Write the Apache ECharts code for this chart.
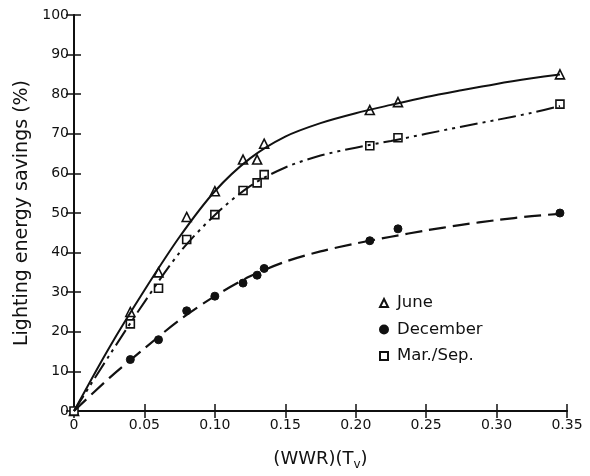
<!DOCTYPE html>
<html>
<head>
<meta charset="utf-8">
<script src="https://cdn.jsdelivr.net/npm/echarts@6/dist/echarts.min.js"></script>
<style>html,body{margin:0;padding:0;background:#fff}#c{width:590px;height:476px}</style>
</head>
<body>
<div id="c"></div>
<script>
// Measured points
var juneX = [0, 0.04, 0.06, 0.08, 0.10, 0.12, 0.13, 0.135, 0.21, 0.23, 0.345];
var juneY = [0, 25, 35, 49, 55.5, 63.5, 63.5, 67.5, 76, 78, 85];
var decX = [0, 0.04, 0.06, 0.08, 0.10, 0.12, 0.13, 0.135, 0.21, 0.23, 0.345];
var decY = [0, 13, 18, 25.3, 29, 32.3, 34.3, 36, 43, 46, 50];
var marX = [0, 0.04, 0.06, 0.08, 0.10, 0.12, 0.13, 0.135, 0.21, 0.23, 0.345];
var marY = [0, 22, 31, 43.3, 49.6, 55.7, 57.6, 59.7, 67, 69, 77.5];

// Fitted curves
var curveX = [0, 0.025, 0.05, 0.075, 0.10, 0.125, 0.15, 0.175, 0.20, 0.225, 0.25, 0.275, 0.30, 0.325, 0.345];
var juneCurve = [0, 16, 30.5, 44, 55.5, 63.8, 69.3, 72.7, 75.2, 77.3, 79.3, 81, 82.6, 84, 85];
var marCurve = [0, 14, 27.5, 40, 49.5, 56.8, 61.5, 64.5, 66.5, 68.2, 70, 71.8, 73.5, 75.3, 77];
var decCurve = [0, 8.3, 15.8, 23, 29, 34, 37.7, 40.3, 42.3, 44, 45.6, 47, 48.2, 49.2, 49.8];

var xTicks = ['0', '0.05', '0.10', '0.15', '0.20', '0.25', '0.30', '0.35'];

function pairs(xs, ys) { return xs.map(function (x, i) { return [x, ys[i]]; }); }

var FONT = 'DejaVu Sans';
var INK = '#111';

var chart = echarts.init(document.getElementById('c'), null, { renderer: 'canvas' });
var option = {
  backgroundColor: '#fff',
  animation: false,
  grid: { left: 74, right: 23, top: 15, bottom: 63 },
  legend: {
    data: ['June', 'December', 'Mar./Sep.'],
    orient: 'vertical',
    left: 374, top: 288,
    itemWidth: 8, itemHeight: 8, itemGap: 6.5,
    textStyle: { fontFamily: FONT, fontSize: 16.5, color: INK, lineHeight: 20, padding: [0, 0, 0, 4] }
  },
  xAxis: [{
    type: 'value', min: 0, max: 0.35, interval: 0.05, position: 'bottom',
    name: '(WWR)(T{s|v})', nameLocation: 'middle', nameGap: 36,
    nameTextStyle: { fontFamily: FONT, fontSize: 18, color: INK,
      rich: { s: { fontFamily: FONT, fontSize: 12, color: INK, padding: [12, 0, 0, 0] } } },
    axisLine: { lineStyle: { color: INK, width: 2 } },
    axisTick: { inside: true, length: 7, lineStyle: { color: INK, width: 1.5 } },
    splitLine: { show: false },
    axisLabel: { fontFamily: FONT, fontSize: 14, color: INK, margin: 7,
      formatter: function (v) { return xTicks[Math.round(v / 0.05)]; } }
  }, {
    type: 'value', min: 0, max: 0.35, interval: 0.05, position: 'top',
    axisLine: { lineStyle: { color: INK, width: 1.5 } },
    axisTick: { inside: true, length: 7, lineStyle: { color: INK, width: 1.5 } },
    axisLabel: { show: false }, splitLine: { show: false }
  }],
  yAxis: [{
    type: 'value', min: 0, max: 100, interval: 10, position: 'left',
    name: 'Lighting energy savings (%)', nameLocation: 'middle', nameGap: 40,
    nameTextStyle: { fontFamily: FONT, fontSize: 19, color: INK },
    axisLine: { lineStyle: { color: INK, width: 2 } },
    axisTick: { inside: true, length: 7, lineStyle: { color: INK, width: 1.5 } },
    splitLine: { show: false },
    axisLabel: { fontFamily: FONT, fontSize: 14, color: INK, margin: 5 }
  }, {
    type: 'value', min: 0, max: 100, interval: 10, position: 'right',
    axisLine: { lineStyle: { color: INK, width: 1.5 } },
    axisTick: { inside: true, length: 8, lineStyle: { color: INK, width: 1.5 } },
    axisLabel: { show: false }, splitLine: { show: false }
  }],
  series: [
    { name: 'June curve', type: 'line', smooth: 0.3, showSymbol: false, silent: true,
      data: pairs(curveX, juneCurve), lineStyle: { color: INK, width: 2, type: 'solid' } },
    { name: 'Mar curve', type: 'line', smooth: 0.3, showSymbol: false, silent: true,
      data: pairs(curveX, marCurve), lineStyle: { color: INK, width: 2, type: [18, 5, 3, 5, 3, 5] } },
    { name: 'Dec curve', type: 'line', smooth: 0.3, showSymbol: false, silent: true,
      data: pairs(curveX, decCurve), lineStyle: { color: INK, width: 2.2, type: [17, 7] } },
    { name: 'June', type: 'scatter', symbol: 'triangle', symbolSize: 9, clip: false,
      data: pairs(juneX, juneY), itemStyle: { color: '#fff', borderColor: INK, borderWidth: 1.6, opacity: 1 } },
    { name: 'December', type: 'scatter', symbol: 'circle', symbolSize: 8, clip: false,
      data: pairs(decX, decY), itemStyle: { color: INK, borderColor: INK, borderWidth: 1, opacity: 1 } },
    { name: 'Mar./Sep.', type: 'scatter', symbol: 'rect', symbolSize: 8, clip: false,
      data: pairs(marX, marY), itemStyle: { color: '#fff', borderColor: INK, borderWidth: 1.6, opacity: 1 } }
  ]
};
chart.setOption(option);
</script>
</body>
</html>
